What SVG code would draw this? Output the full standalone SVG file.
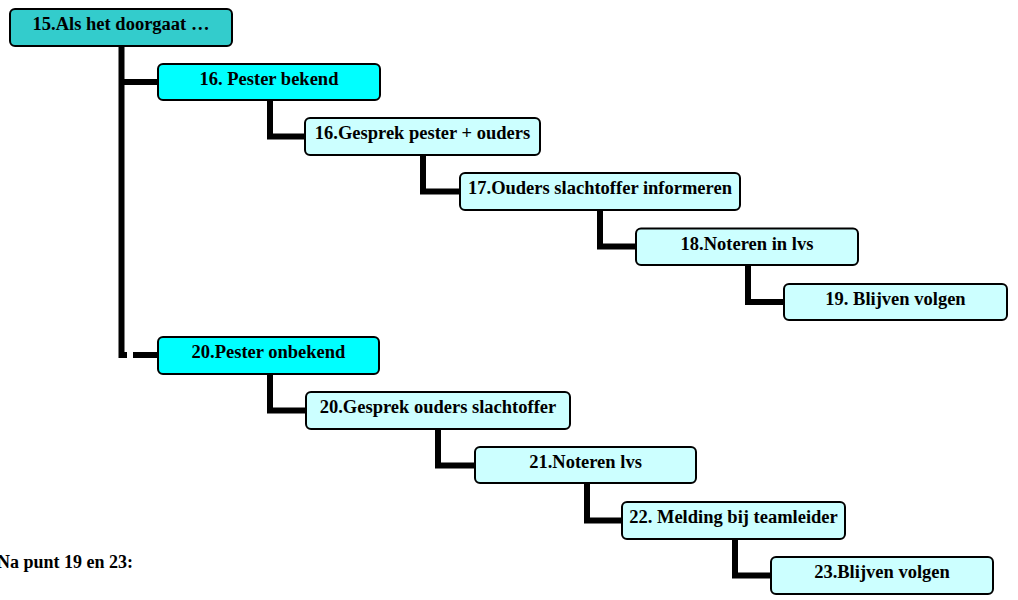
<svg xmlns="http://www.w3.org/2000/svg" width="1018" height="600" viewBox="0 0 1018 600">
<style>
.box{stroke:#000;stroke-width:2}
.root{fill:#33CCCC}
.mid{fill:#00FFFF}
.leaf{fill:#CCFFFF}
.lbl{font-family:"Liberation Serif","Times New Roman",serif;font-weight:bold;font-size:18.5px;fill:#000;text-anchor:middle}
.note{font-family:"Liberation Serif","Times New Roman",serif;font-weight:bold;font-size:18px;fill:#000}
.con{fill:none;stroke:#000;stroke-width:6;stroke-linejoin:miter;stroke-linecap:butt}
</style>
<rect width="1018" height="600" fill="#fff"/>
<g id="connectors">
<path class="con" d="M121.5 46 V355 H127"/>
<path class="con" d="M133 355 H158"/>
<path class="con" d="M121.5 82 H158"/>
<path class="con" d="M270 100 V136.5 H305"/>
<path class="con" d="M423 155 V191.5 H460"/>
<path class="con" d="M600 210 V246.5 H636"/>
<path class="con" d="M748 265 V302 H784"/>
<path class="con" d="M270 374 V410.5 H306"/>
<path class="con" d="M438 429 V465.5 H475"/>
<path class="con" d="M587 483 V520.5 H622"/>
<path class="con" d="M735 539 V575.5 H771"/>
</g>
<g id="n15"><rect class="box root" x="10" y="9" width="222" height="37" rx="5"/><text class="lbl" x="121" y="30">15.Als het doorgaat …</text></g>
<g id="n16a"><rect class="box mid" x="158" y="64" width="222" height="36" rx="5"/><text class="lbl" x="269" y="85">16. Pester bekend</text></g>
<g id="n16b"><rect class="box leaf" x="305" y="118" width="235" height="37" rx="5"/><text class="lbl" x="422.5" y="139">16.Gesprek pester + ouders</text></g>
<g id="n17"><rect class="box leaf" x="460" y="173" width="280" height="37" rx="5"/><text class="lbl" x="600" y="194">17.Ouders slachtoffer informeren</text></g>
<g id="n18"><rect class="box leaf" x="636" y="228.5" width="222" height="36.5" rx="5"/><text class="lbl" x="747" y="249.5">18.Noteren in lvs</text></g>
<g id="n19"><rect class="box leaf" x="784" y="284" width="223" height="36" rx="5"/><text class="lbl" x="895.5" y="305">19. Blijven volgen</text></g>
<g id="n20a"><rect class="box mid" x="158" y="337" width="221" height="37" rx="5"/><text class="lbl" x="268.5" y="358">20.Pester onbekend</text></g>
<g id="n20b"><rect class="box leaf" x="306" y="392" width="264" height="37" rx="5"/><text class="lbl" x="438" y="413">20.Gesprek ouders slachtoffer</text></g>
<g id="n21"><rect class="box leaf" x="475" y="447" width="221" height="36" rx="5"/><text class="lbl" x="585.5" y="468">21.Noteren lvs</text></g>
<g id="n22"><rect class="box leaf" x="622" y="502" width="223" height="37" rx="5"/><text class="lbl" x="733.5" y="523">22. Melding bij teamleider</text></g>
<g id="n23"><rect class="box leaf" x="771" y="557" width="222" height="37" rx="5"/><text class="lbl" x="882" y="578">23.Blijven volgen</text></g>
<text class="note" x="-3" y="568">Na punt 19 en 23:</text>
</svg>
